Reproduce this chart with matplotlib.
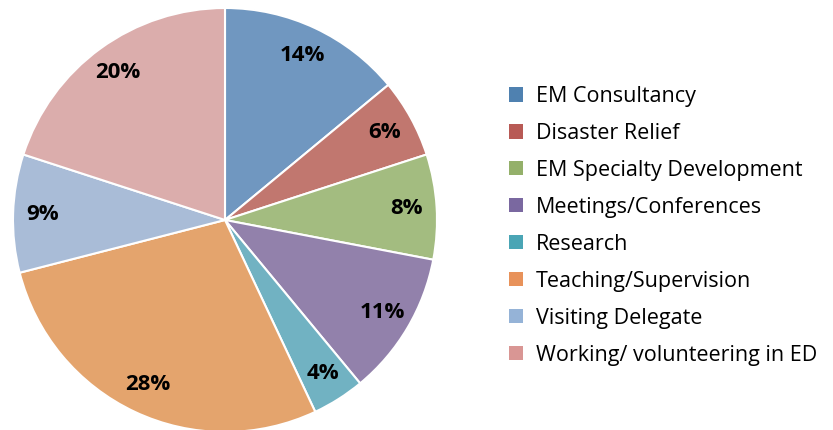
import matplotlib
matplotlib.use("Agg")
import matplotlib.pyplot as plt
from matplotlib.patches import Patch

categories = ["EM Consultancy", "Disaster Relief", "EM Specialty Development",
              "Meetings/Conferences", "Research", "Teaching/Supervision",
              "Visiting Delegate", "Working/ volunteering in ED"]
values = [14, 6, 8, 11, 4, 28, 9, 20]
pie_colors = ["#7097c0", "#c1776f", "#a3bc80", "#9281ab", "#71b2c2",
              "#e4a46d", "#a9bcd7", "#dbadac"]
legend_colors = ["#4f81b0", "#b85a55", "#94b06a", "#7a68a0", "#4aa5b5",
                 "#e8925a", "#95b3d7", "#d99694"]

plt.rcParams['font.family'] = ['Open Sans', 'DejaVu Sans']

fig = plt.figure(figsize=(8.33, 4.30), dpi=100)
W, H = 833, 430
cx, cy, r = 225, 220, 212
ax = fig.add_axes([(cx - r) / W, (H - cy - r) / H, 2 * r / W, 2 * r / H])
wedges, texts = ax.pie(values, colors=pie_colors, startangle=90, counterclock=False,
                       labels=[f"{v}%" for v in values], labeldistance=0.86,
                       wedgeprops=dict(edgecolor="white", linewidth=1.5),
                       textprops=dict(fontsize=16, fontweight="bold", color="black"))
for t in texts:
    t.set_ha("center")
    t.set_va("center")
ax.set_xlim(-1, 1)
ax.set_ylim(-1, 1)
ax.set_aspect("equal")
ax.axis("off")

handles = [Patch(facecolor=c, edgecolor="none") for c in legend_colors]
fig.legend(handles, categories, loc="upper left", bbox_to_anchor=(509 / W, 1 - 86 / H),
           frameon=False, fontsize=15.5, handlelength=0.65, handleheight=0.65,
           handletextpad=0.6, labelspacing=0.74, borderaxespad=0, borderpad=0)

fig.savefig("out.png", dpi=100)
